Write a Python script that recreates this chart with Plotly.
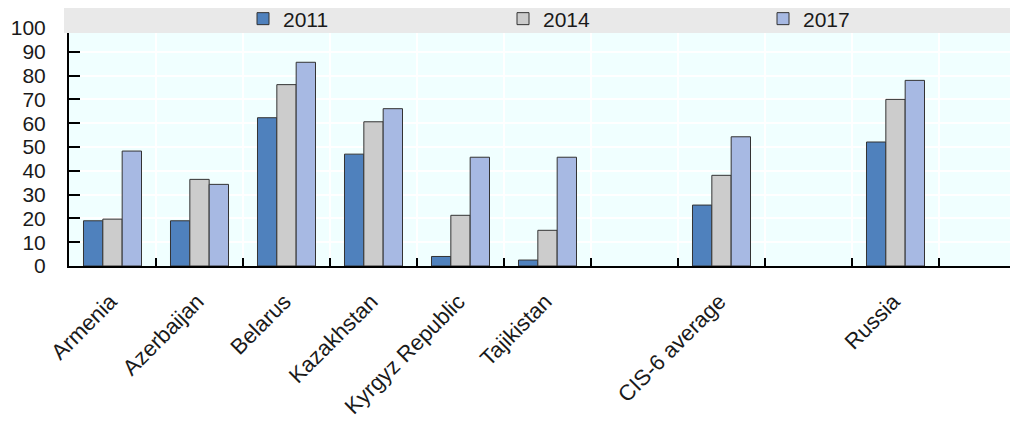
import plotly.graph_objects as go

categories = ["Armenia", "Azerbaijan", "Belarus", "Kazakhstan", "Kyrgyz Republic",
              "Tajikistan", " ", "CIS-6 average", "  ", "Russia", "   "]
v2011 = [19, 19, 62.3, 47, 4, 2.5, None, 25.6, None, 52.1, None]
v2014 = [19.7, 36.4, 76.2, 60.6, 21.3, 15, None, 38.1, None, 70, None]
v2017 = [48.3, 34.3, 85.6, 66.1, 45.7, 45.7, None, 54.3, None, 78, None]
series_names = ["2011", "2014", "2017"]
colors = ["#4F81BD", "#CCCCCC", "#A7B9E3"]
y_ticks = [0, 10, 20, 30, 40, 50, 60, 70, 80, 90, 100]

# page has an 8px body margin, so the figure is sized/offset to compensate
W, H = 1010, 415
ML, MR, MT, MB = 61, 0, 20, 157
PW, PH = W - ML - MR, H - MT - MB

fig = go.Figure()
for name, vals, c in zip(series_names, [v2011, v2014, v2017], colors):
    fig.add_trace(go.Bar(x=categories, y=vals, name=name,
                         marker=dict(color=c, line=dict(color="#333333", width=1))))

font = dict(family="Liberation Sans, Arial, sans-serif", size=21, color="#1a1a1a")
xfont = dict(family="Liberation Sans, Arial, sans-serif", size=22, color="#1a1a1a")

fig.update_layout(
    width=W, height=H,
    margin=dict(l=ML, r=MR, t=MT, b=MB, pad=0, autoexpand=False),
    paper_bgcolor="white",
    plot_bgcolor="#F0FFFF",
    font=font,
    barmode="group",
    bargap=0.333,
    bargroupgap=0,
    showlegend=True,
    legend=dict(orientation="h", x=(235 - ML) / PW, xanchor="left",
                y=1 + (MT - 11) / PH, yanchor="middle",
                bgcolor="rgba(0,0,0,0)", entrywidth=215, entrywidthmode="pixels",
                font=font, itemclick=False),
    xaxis=dict(categoryorder="array", categoryarray=categories,
               range=[-0.5, -0.5 + PW / 87.0], automargin=False,
               tickson="boundaries", ticks="inside", ticklen=8, tickwidth=2,
               tickcolor="black", showline=True, linecolor="black", linewidth=2,
               showgrid=True, gridcolor="white", gridwidth=2,
               tickangle=-45, ticklabelstandoff=12, ticklabelshift=-2, tickfont=xfont),
    yaxis=dict(range=[0, 100], tickvals=y_ticks, ticks="inside", ticklen=11,
               tickwidth=2, tickcolor="black", showline=True, linecolor="black",
               linewidth=2, showgrid=True, gridcolor="white", gridwidth=2,
               zeroline=False, ticklabelstandoff=17, tickfont=font, automargin=False),
    shapes=[dict(type="rect", xref="paper", yref="paper",
                 x0=-5 / PW, x1=1.02,
                 y0=1 - 5 / PH, y1=1 + MT / PH,
                 fillcolor="#E9E9E9", line=dict(width=0), layer="above")],
)

fig.write_html("out.html")
